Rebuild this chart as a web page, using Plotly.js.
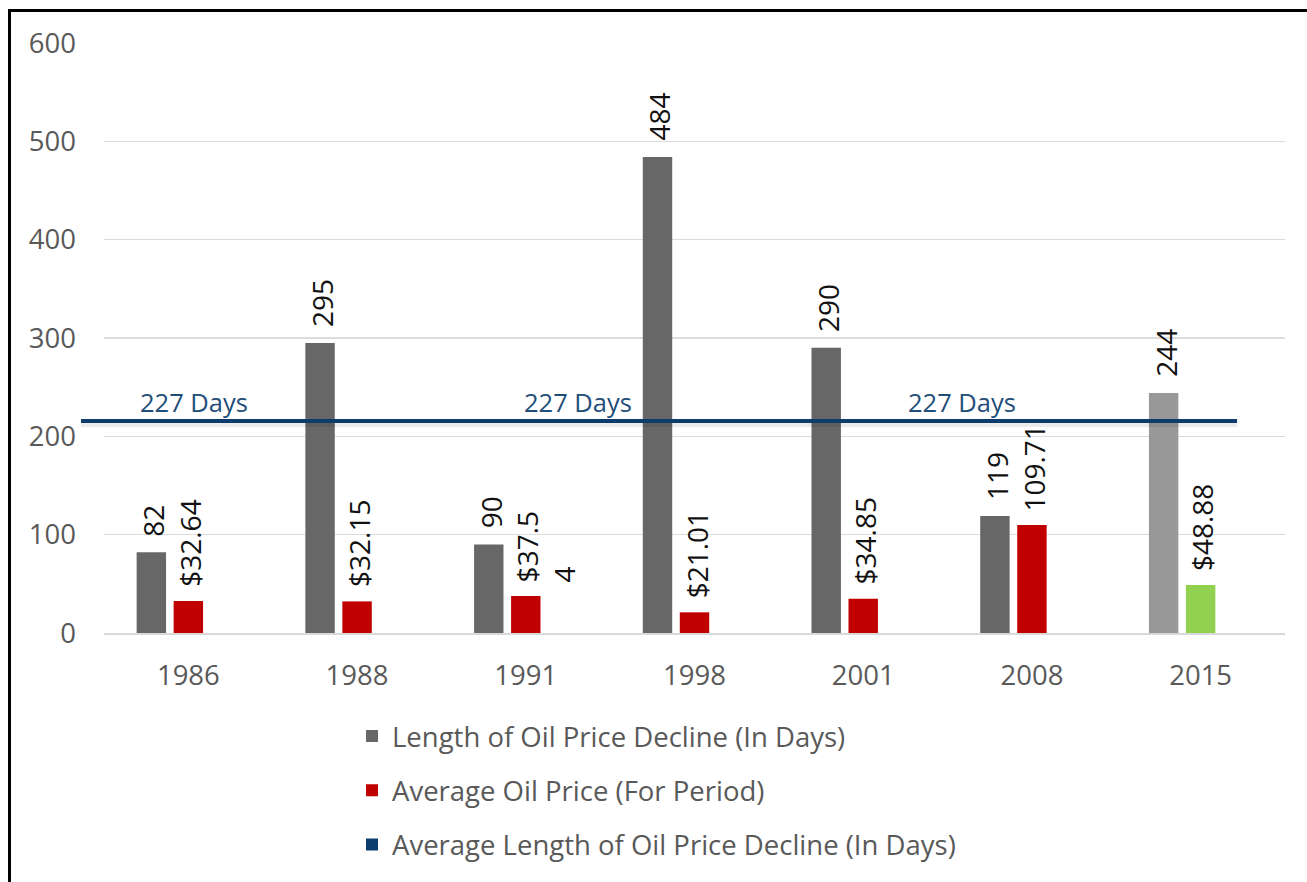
<!DOCTYPE html>
<html><head><meta charset="utf-8">
<script src="https://cdn.plot.ly/plotly-3.0.1.min.js"></script>
<style>
html,body{margin:0;padding:0;background:#fff;overflow:hidden;}
#chart{width:1307px;height:882px;}
#frame{position:absolute;left:8px;top:9px;width:1299px;height:873px;box-sizing:border-box;border-left:3px solid #000;border-top:3px solid #000;pointer-events:none;}
</style>
</head><body><div id="chart"></div><div id="frame"></div>
<script>
// ---- data ----
const years = ['1986', '1988', '1991', '1998', '2001', '2008', '2015'];
const declineDays = [82, 295, 90, 484, 290, 119, 244];
const avgOilPrice = [32.64, 32.15, 37.54, 21.01, 34.85, 109.71, 48.88];
const declineDayLabels = ['82', '295', '90', '484', '290', '119', '244'];
const avgPriceLabels = ['$32.64', '$32.15', '$37.5<br>4', '$21.01', '$34.85', '109.71', '$48.88'];
const avgDeclineLevel = 215.5;          // where the average line is drawn
const avgDeclineText = '227 Days';
const seriesNames = ['Length of Oil Price Decline (In Days)', 'Average Oil Price (For Period)', 'Average Length of Oil Price Decline (In Days)'];

// ---- styling ----
const FONT = '"Open Sans", "Noto Sans", sans-serif';
const grayDark = '#676767', grayLight = '#989898', red = '#C00000', green = '#92D050', navy = '#0b3c6b';
const bargap = 0.342, bargroupgap = 0.205;
const slot = (1 - bargap) / 3;
const xIdx = years.map((_, i) => i);
const lastI = years.length - 1;

const traces = [
  {type: 'bar', x: xIdx, y: declineDays, name: seriesNames[0], legendgroup: 'g1',
   marker: {color: xIdx.map(i => i === lastI ? grayLight : grayDark)}, hoverinfo: 'y'},
  {type: 'bar', x: xIdx, y: avgOilPrice, name: seriesNames[1], legendgroup: 'g2',
   marker: {color: xIdx.map(i => i === lastI ? green : red)}, hoverinfo: 'y'},
  {type: 'bar', x: xIdx, y: xIdx.map(() => null), name: seriesNames[2], legendgroup: 'g3',
   marker: {color: navy}, hoverinfo: 'skip'}
];

const annotations = [];
xIdx.forEach(i => {
  annotations.push({x: i - slot, y: declineDays[i], xref: 'x', yref: 'y', text: declineDayLabels[i],
    textangle: -90, showarrow: false, yanchor: 'bottom', xanchor: 'center', yshift: 14, xshift: 2,
    font: {family: FONT, size: 28, color: '#111'}});
  const multi = avgPriceLabels[i].includes('<br>');
  annotations.push({x: i, y: avgOilPrice[i], xref: 'x', yref: 'y', text: avgPriceLabels[i],
    textangle: -90, showarrow: false, yanchor: 'bottom', xanchor: 'center', yshift: 12, xshift: multi ? 19 : 2, align: 'left',
    font: {family: FONT, size: 28, color: '#111'}});
});
[0.0758, 0.4014, 0.7265].forEach(px => {
  annotations.push({x: px, xref: 'paper', y: avgDeclineLevel, yref: 'y', text: avgDeclineText,
    showarrow: false, yanchor: 'bottom', xanchor: 'center', yshift: 0,
    font: {family: FONT, size: 25.5, color: '#1f4e79'}});
});

const layout = {
  width: 1307, height: 882,
  margin: {l: 104, r: 22, t: 43, b: 249},
  paper_bgcolor: '#fff', plot_bgcolor: '#fff',
  barmode: 'group', bargap: bargap, bargroupgap: bargroupgap,
  showlegend: true,
  xaxis: {range: [-0.5, 6.5], tickvals: xIdx, ticktext: years, showgrid: false, zeroline: false,
    showline: true, linecolor: '#d9d9d9', linewidth: 1.5, ticks: '', ticklabelstandoff: 17, tickangle: 0,
    tickfont: {family: FONT, size: 27.5, color: '#595959'}, fixedrange: true, automargin: false},
  yaxis: {range: [0, 600], dtick: 100, tick0: 0, showgrid: true, gridcolor: '#dcdcdc', gridwidth: 1.3,
    zeroline: false, showline: false, ticks: '', ticklabelstandoff: 27,
    tickfont: {family: FONT, size: 27.5, color: '#595959'}, fixedrange: true, automargin: false},
  legend: {orientation: 'v', xref: 'paper', yref: 'container', x: 0.21, xanchor: 'left', y: 0.1931, yanchor: 'top',
    traceorder: 'grouped', tracegroupgap: 15.5, bgcolor: 'rgba(0,0,0,0)',
    font: {family: FONT, size: 27.5, color: '#595959'}},
  shapes: [
    {type: 'line', xref: 'paper', x0: -0.0195, x1: 0.9594, yref: 'y', ysizemode: 'pixel', yanchor: avgDeclineLevel,
     y0: -4, y1: -4, line: {color: 'rgba(0,0,0,0.08)', width: 4}},
    {type: 'line', xref: 'paper', x0: -0.0195, x1: 0.9594, yref: 'y', y0: avgDeclineLevel, y1: avgDeclineLevel,
     line: {color: navy, width: 4}}
  ],
  annotations: annotations
};

Plotly.newPlot('chart', traces, layout, {displayModeBar: false, staticPlot: true});
</script>
</body></html>
